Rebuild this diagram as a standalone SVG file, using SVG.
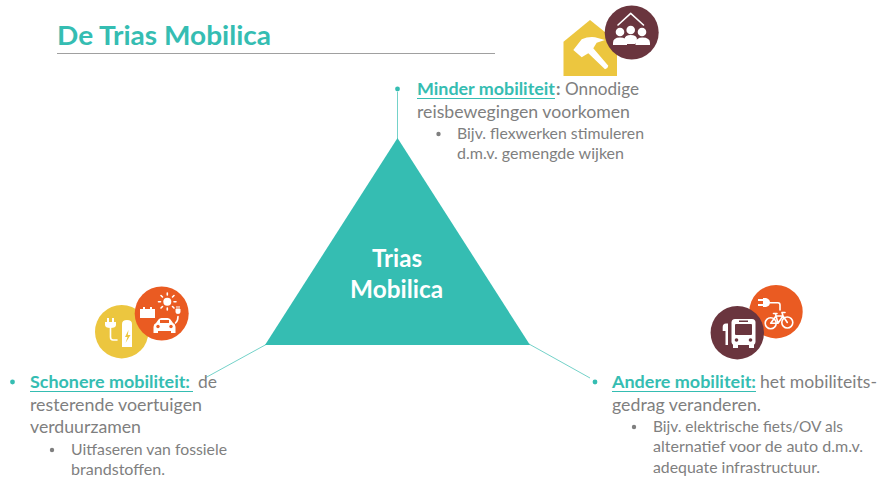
<svg xmlns="http://www.w3.org/2000/svg" width="878" height="477" viewBox="0 0 878 477">
<style>
text{font-family:Lato,"Open Sans","Liberation Sans",sans-serif;fill:#7f7f7f}
.m{font-size:17.500px}
.s{font-size:15px}
.h{fill:#35bdb2;font-weight:700}
.u{stroke:#35bdb2;stroke-width:1}
.d{fill:#35bdb2}
.b{fill:#7f7f7f}
.w{fill:#fff}
.ws{fill:none;stroke:#fff;stroke-width:1.600;stroke-linecap:round;stroke-linejoin:round}
.c{stroke:#74d2c9;stroke-width:1;fill:none}
.t{font-size:24px;font-weight:700;fill:#fff}
.o{fill:#ea5b22}
.y{fill:#ecc63f}
.r{fill:#6a353e}
</style>
<rect width="878" height="477" fill="#fff"/>
<g id="title">
<text x="57" y="45" font-size="27" font-weight="700" style="fill:#35bdb2" textLength="214" lengthAdjust="spacingAndGlyphs">De Trias Mobilica</text>
<line x1="57" y1="53.500" x2="495" y2="53.500" stroke="#a0a0a0" stroke-width="1"/>
</g>
<g id="connectors">
<line class="c" x1="397.500" y1="92" x2="397.500" y2="140"/>
<line class="c" x1="267" y1="344" x2="205" y2="378"/>
<line class="c" x1="529" y1="344" x2="590" y2="378"/>
</g>
<g id="triangle">
<polygon points="397.500,138 530,345 265,345" fill="#35bdb2"/>
<text class="t" x="372" y="267" textLength="50" lengthAdjust="spacingAndGlyphs">Trias</text>
<text class="t" x="350" y="298" textLength="93" lengthAdjust="spacingAndGlyphs">Mobilica</text>
</g>
<g id="minder">
<circle class="d" cx="397.500" cy="89" r="2.400"/>
<text class="m h" x="417" y="95" textLength="138" lengthAdjust="spacingAndGlyphs">Minder mobiliteit</text>
<line class="u" x1="417" y1="98.500" x2="555" y2="98.500"/>
<text class="m" x="556" y="95" style="font-weight:700">:</text>
<text class="m" x="565" y="95" textLength="74" lengthAdjust="spacingAndGlyphs">Onnodige</text>
<text class="m" x="417" y="118" textLength="213" lengthAdjust="spacingAndGlyphs">reisbewegingen voorkomen</text>
<circle class="b" cx="438.500" cy="134" r="2.200"/>
<text class="s" x="457" y="139" textLength="187" lengthAdjust="spacingAndGlyphs">Bijv. flexwerken stimuleren</text>
<text class="s" x="457" y="159" textLength="167" lengthAdjust="spacingAndGlyphs">d.m.v. gemengde wijken</text>
</g>
<g id="schonere">
<circle class="d" cx="12.500" cy="382" r="2.400"/>
<text class="m h" x="30" y="388" textLength="160" lengthAdjust="spacingAndGlyphs">Schonere mobiliteit:</text>
<line class="u" x1="30" y1="391.500" x2="193" y2="391.500"/>
<text class="m" x="198" y="388" textLength="19" lengthAdjust="spacingAndGlyphs">de</text>
<text class="m" x="30" y="411" textLength="172" lengthAdjust="spacingAndGlyphs">resterende voertuigen</text>
<text class="m" x="30" y="433" textLength="111" lengthAdjust="spacingAndGlyphs">verduurzamen</text>
<circle class="b" cx="52" cy="450" r="2.200"/>
<text class="s" x="71" y="455" textLength="156" lengthAdjust="spacingAndGlyphs">Uitfaseren van fossiele</text>
<text class="s" x="71" y="475" textLength="94" lengthAdjust="spacingAndGlyphs">brandstoffen.</text>
</g>
<g id="andere">
<circle class="d" cx="595" cy="382" r="2.400"/>
<text class="m h" x="612" y="388" textLength="144" lengthAdjust="spacingAndGlyphs">Andere mobiliteit:</text>
<line class="u" x1="612" y1="391.500" x2="756" y2="391.500"/>
<text class="m" x="760" y="388" textLength="117" lengthAdjust="spacingAndGlyphs">het mobiliteits-</text>
<text class="m" x="612" y="411" textLength="149" lengthAdjust="spacingAndGlyphs">gedrag veranderen.</text>
<circle class="b" cx="634" cy="427" r="2.200"/>
<text class="s" x="653" y="432" textLength="190" lengthAdjust="spacingAndGlyphs">Bijv. elektrische fiets/OV als</text>
<text class="s" x="653" y="452" textLength="210" lengthAdjust="spacingAndGlyphs">alternatief voor de auto d.m.v.</text>
<text class="s" x="653" y="473" textLength="167" lengthAdjust="spacingAndGlyphs">adequate infrastructuur.</text>
</g>
<g id="icon-top">
<polygon class="y" points="590,20 617,41.700 617,76 563.500,76 563.500,41.700"/>
<path class="w" d="M573.300 50 L581.700 39.300 Q588 36.500 595 37.300 L605 40 L596.700 42.700 L593.300 48.300 L608.300 65.700 Q608 68.500 605 69.300 L588.300 53.300 L581.700 57.300 Z"/>
<circle class="r" cx="631.700" cy="32.500" r="27"/>
<path class="ws" d="M618 25 L630.700 13.300 L643.500 25"/>
<circle class="w" cx="620" cy="32" r="4.300"/><circle class="w" cx="630.700" cy="30" r="4.300"/><circle class="w" cx="642" cy="32" r="4.300"/>
<path class="w" d="M613 45 V43 Q613 37.500 620 37.500 Q627 37.500 627 43 V45 Z M624.500 39 Q625 35 630.700 35 Q636.500 35 637 39 L635 44 H627 Z M635.500 45 V43 Q636 37.500 642.500 37.500 Q650 37.500 650 43 V45 Z"/>
</g>
<g id="icon-left">
<circle class="y" cx="121.700" cy="331.700" r="26.700"/>
<path class="ws" d="M110.500 328 V337 Q110.500 340 113 340 H117" stroke-width="1.500"/>
<path class="w" d="M107 319 h2v4h3v-4h2v4h2v3q0 3 -5.500 3t-5.500 -3v-3h2Z" transform="translate(0 -1)"/>
<path class="w" d="M122 324 Q122 320 127 320 Q132 320 132 324 V347 H122 Z"/>
<path d="M128.500 330 L125 337 H127.500 L125.500 343 L130.500 335 H127.800 Z" class="y"/>
<circle class="o" cx="161.700" cy="313.500" r="27"/>
<path class="w" d="M140 309 h3 v-2 h2 v2 h5 v-2 h2 v2 h3 v9 h-15 Z"/>
<circle class="w" cx="167.300" cy="301.700" r="4"/>
<path class="ws" d="M167.300 293 v2 M167.300 308 v2 M158.500 301.700 h2 M174 301.700 h2 M161 295.500 l1.500 1.500 M172.500 306.500 l1.500 1.500 M161 308 l1.500 -1.500 M172.500 297 l1.500 -1.500" stroke-width="0.900"/>
<path class="w" d="M153.500 327 Q153.500 324 156 323 L158.500 319.500 Q159.500 318 161.500 318 H167.500 Q169.500 318 170.500 319.500 L173 323 Q175.500 324 175.500 327 V333 H171 V331 H158 V333 H153.500 Z"/>
<circle class="o" cx="158" cy="326.500" r="1.700"/><circle class="o" cx="171" cy="326.500" r="1.700"/>
<rect class="o" x="160" y="320" width="9" height="3"/>
<path class="ws" d="M175.500 323 Q178 321 178 316.500" stroke-width="1.300"/>
<path class="w" d="M175.500 309 h1v-3h1v3h1v-3h1v3h1v3q0 2 -2.500 2t-2.500 -2Z"/>
</g>
<g id="icon-right">
<circle class="o" cx="776" cy="311.700" r="26.700"/>
<path class="w" d="M758 299 h5 v-1 h3 q4 1 4 4.500 t-4 4.500 h-3 v-1 h-5 v-2 h5 v-3 h-5 Z"/>
<path class="ws" d="M770 302.700 H778 Q780 302.700 780 305 V310" stroke-width="1.500"/>
<circle class="ws" cx="770.700" cy="323.300" r="5.500" stroke-width="1.300"/><circle class="ws" cx="787.300" cy="322.500" r="5.500" stroke-width="1.300"/>
<path class="ws" d="M770.700 323.300 L776 316 L783 316 L778 323.300 Z M783 316 L787.300 322.500 M783 316 L782 312.500 H785 M775.500 314 L778 323.300 M773.500 313.500 H777" stroke-width="1.100"/>
<circle class="r" cx="737.300" cy="332.700" r="26.700"/>
<path class="w" d="M722.700 327 Q722.700 323.500 726 323.500 H728 V345 H725.500 V331 H722.700 Z"/>
<rect class="w" x="731.500" y="319" width="24" height="26" rx="3.500"/>
<rect class="w" x="733" y="344" width="5" height="4"/><rect class="w" x="749" y="344" width="5" height="4"/>
<rect class="r" x="735" y="324" width="17" height="11" rx="1"/>
<rect class="r" x="739" y="320.500" width="9" height="1.500"/>
<circle class="r" cx="736.500" cy="340" r="1.800"/><circle class="r" cx="750.500" cy="340" r="1.800"/>
</g>
</svg>
